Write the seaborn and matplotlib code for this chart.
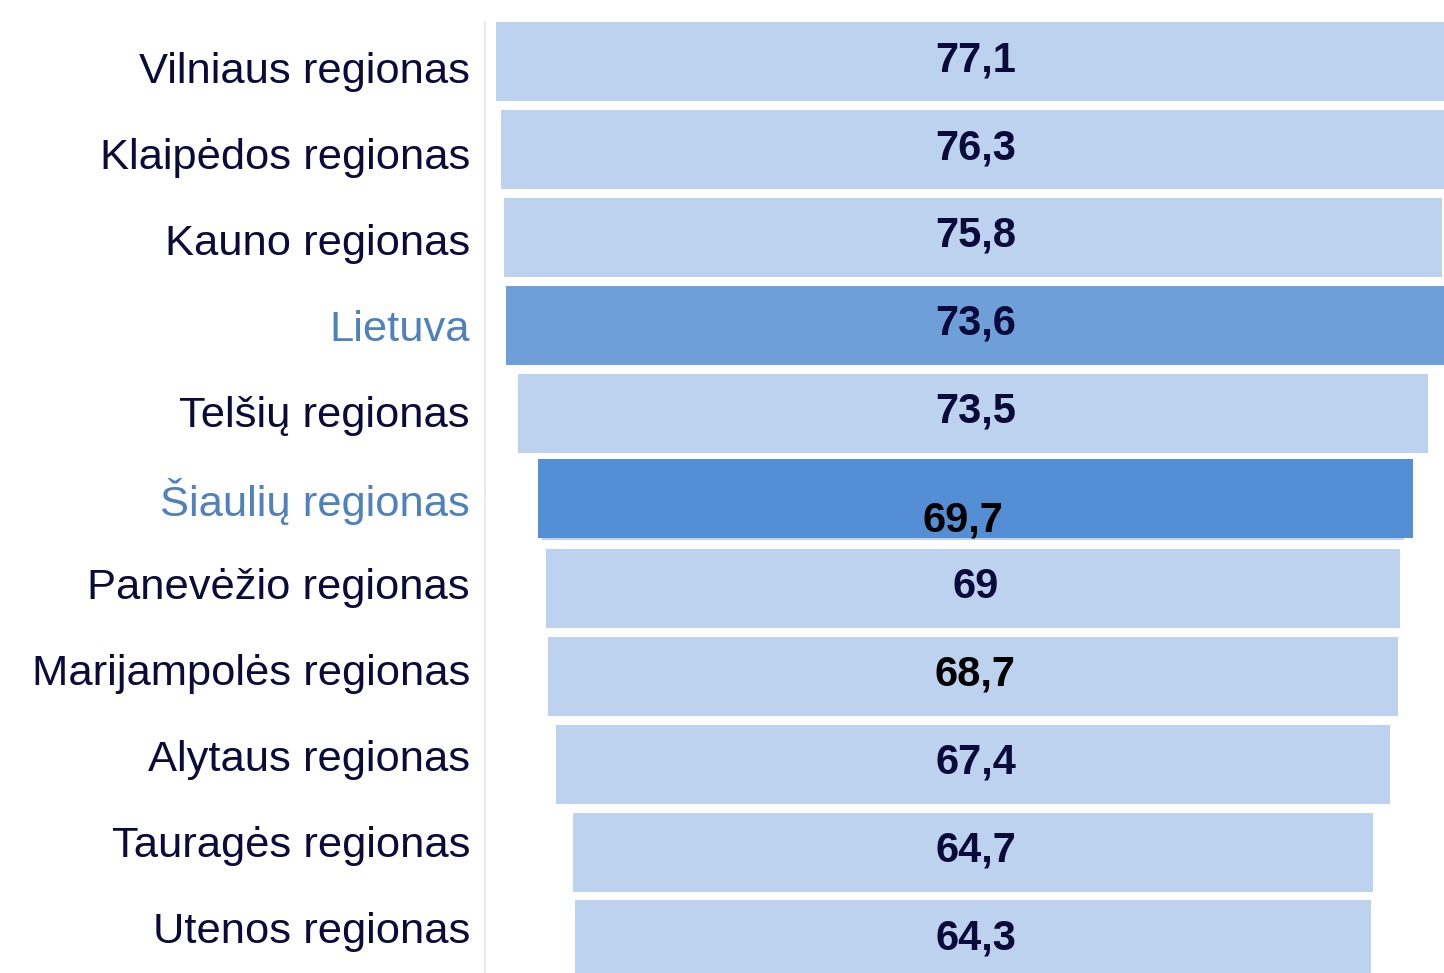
import pandas as pd
import matplotlib.pyplot as plt
import seaborn as sns

regions = ['Vilniaus regionas', 'Klaipėdos regionas', 'Kauno regionas', 'Lietuva',
           'Telšių regionas', 'Šiaulių regionas', 'Panevėžio regionas',
           'Marijampolės regionas', 'Alytaus regionas', 'Tauragės regionas',
           'Utenos regionas']
values = [77.1, 76.3, 75.8, 73.6, 73.5, 69.7, 69.0, 68.7, 67.4, 64.7, 64.3]
value_labels = ['77,1', '76,3', '75,8', '73,6', '73,5', '69,7', '69', '68,7',
                '67,4', '64,7', '64,3']
highlight = ['Lietuva', 'Šiaulių regionas']

sns.set_style('white')
plt.rcParams['font.family'] = ['Liberation Sans', 'DejaVu Sans']

df = pd.DataFrame({'region': regions, 'value': values})

light = '#BDD2EF'
navy = '#0B0B3B'
blue_lbl = '#4F81BD'
dark = {'Lietuva': ('#6F9FD9', 2.2, 0.0), 'Šiaulių regionas': ('#548ED5', 1.0, -0.03)}

fig = plt.figure(figsize=(14.44, 9.73), dpi=100)
ax = fig.add_axes([485 / 1444, 0, 959 / 1444, 1])

# piltuvas: juostos centruojamos apie 0
sns.barplot(data=df, x='value', y='region', color=light, saturation=1,
            width=0.9, linewidth=0, ax=ax)
for p in ax.patches:
    p.set_x(-p.get_width() / 2)

# paryskintos juostos
for name, (col, extra, dy) in dark.items():
    i = regions.index(name)
    w = values[i] + extra
    ax.barh(i + dy, w, left=-w / 2 + 0.2, height=0.9, color=col, linewidth=0)

for i, lab in enumerate(value_labels):
    col = navy
    x, y = 0.2, i - 0.02
    if regions[i] == 'Šiaulių regionas':
        x, y, col = -0.8, i + 0.22, 'black'
    if regions[i] == 'Marijampolės regionas':
        col = 'black'
    ax.text(x, y, lab, ha='center', va='center', fontsize=30,
            fontweight='bold', color=col)

# regionu pavadinimai kaireje
ax.set_yticks([])
for i, name in enumerate(regions):
    ax.text(-15 / 959, 0.11 + i * 0.9795, name, transform=ax.get_yaxis_transform(),
            ha='right', va='center', fontsize=31.3,
            color=blue_lbl if name in highlight else navy)

ax.set_xticks([])
ax.set_xlabel('')
ax.set_ylabel('')
ax.set_xlim(-39.42, 38.05)
ax.set_ylim(10.376, -0.706)

for s in ['top', 'right', 'bottom']:
    ax.spines[s].set_visible(False)
ax.spines['left'].set_color('#EBEBEB')
ax.spines['left'].set_linewidth(1.5)
ax.spines['left'].set_bounds(10.376, -0.45)

fig.savefig('out.png', dpi=100)
